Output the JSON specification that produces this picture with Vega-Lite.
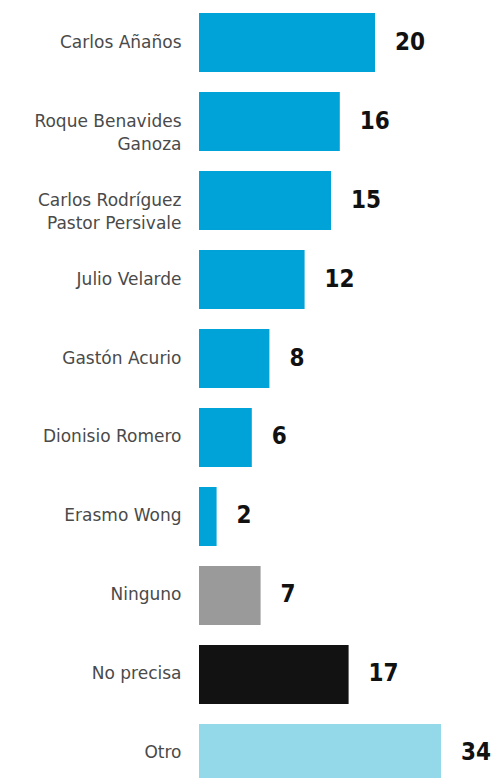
{
  "$schema": "https://vega.github.io/schema/vega-lite/v6.json",
  "autosize": "none",
  "width": 242,
  "height": 778,
  "padding": {"left": 199, "top": 0, "right": 50, "bottom": 0},
  "background": "white",
  "config": {"view": {"stroke": null}},
  "data": {
    "values": [
      {"nombre": "Carlos Añaños", "valor": 20, "tipo": "candidato"},
      {"nombre": "Roque Benavides|Ganoza", "valor": 16, "tipo": "candidato"},
      {"nombre": "Carlos Rodríguez|Pastor Persivale", "valor": 15, "tipo": "candidato"},
      {"nombre": "Julio Velarde", "valor": 12, "tipo": "candidato"},
      {"nombre": "Gastón Acurio", "valor": 8, "tipo": "candidato"},
      {"nombre": "Dionisio Romero", "valor": 6, "tipo": "candidato"},
      {"nombre": "Erasmo Wong", "valor": 2, "tipo": "candidato"},
      {"nombre": "Ninguno", "valor": 7, "tipo": "ninguno"},
      {"nombre": "No precisa", "valor": 17, "tipo": "noprecisa"},
      {"nombre": "Otro", "valor": 34, "tipo": "otro"}
    ]
  },
  "encoding": {
    "y": {
      "field": "nombre",
      "type": "nominal",
      "sort": null,
      "scale": {"range": [13, 783], "paddingInner": 0.253, "paddingOuter": 0},
      "axis": {
        "title": null,
        "ticks": false,
        "domain": false,
        "labelPadding": 18,
        "labelExpr": "split(datum.label, '|')",
        "labelFont": "DejaVu Sans",
        "labelFontSize": 17,
        "labelColor": "#4a4a4a",
        "labelLineHeight": 23,
        "labelLimit": 200
      }
    },
    "x": {
      "field": "valor",
      "type": "quantitative",
      "scale": {"domain": [0, 27.5], "clamp": true, "nice": false},
      "axis": null
    }
  },
  "layer": [
    {
      "mark": {"type": "bar"},
      "encoding": {
        "color": {
          "field": "tipo",
          "type": "nominal",
          "scale": {
            "domain": ["candidato", "ninguno", "noprecisa", "otro"],
            "range": ["#00a3d8", "#9a9a9a", "#121212", "#93d9ea"]
          },
          "legend": null
        }
      }
    },
    {
      "mark": {
        "type": "text",
        "align": "left",
        "baseline": "middle",
        "dx": 20,
        "font": "DejaVu Sans Condensed",
        "fontWeight": "bold",
        "fontSize": 24,
        "color": "#111111"
      },
      "encoding": {"text": {"field": "valor", "type": "quantitative"}}
    }
  ]
}
